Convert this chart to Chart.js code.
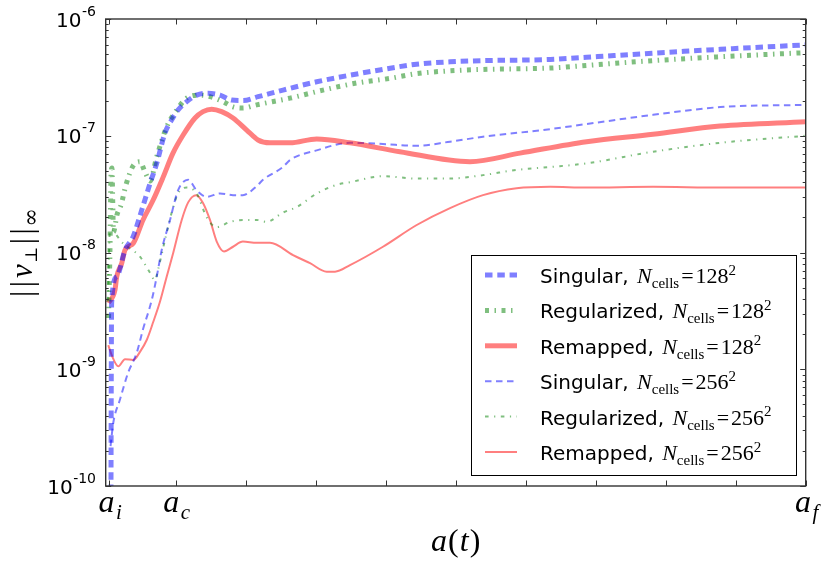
<!DOCTYPE html>
<html>
<head>
<meta charset="utf-8">
<script src="https://cdn.jsdelivr.net/npm/chart.js@4.4.0/dist/chart.umd.min.js"></script>
<style>
  html, body { margin: 0; padding: 0; background: #fff; }
  #wrap { width: 830px; height: 566px; position: relative; }
</style>
</head>
<body>
<div id="wrap"><canvas id="chart"></canvas></div>
<script>
// scale factor a(t), from a_i (left) to a_f (right = 1)
const singular128X = [0.0071, 0.0085, 0.0157, 0.0276, 0.039, 0.0514, 0.0633, 0.0729, 0.0847, 0.0943, 0.1033, 0.1157, 0.13, 0.1461, 0.1633, 0.18, 0.196, 0.2176, 0.2533, 0.3014, 0.349, 0.396, 0.444, 0.492, 0.539, 0.635, 0.687, 0.782, 0.878, 1.0];
const singular128Y = [1e-11, 3.7e-9, 6.2e-9, 1.05e-8, 1.36e-8, 2.3e-8, 3.9e-8, 5.8e-8, 1.06e-7, 1.37e-7, 1.66e-7, 1.96e-7, 2.23e-7, 2.31e-7, 2.23e-7, 2.02e-7, 2.0e-7, 2.16e-7, 2.46e-7, 2.9e-7, 3.3e-7, 3.7e-7, 4.1e-7, 4.3e-7, 4.4e-7, 4.5e-7, 4.7e-7, 5.1e-7, 5.5e-7, 6.0e-7];

const regular128X = [0.004, 0.0061, 0.0076, 0.009, 0.01, 0.0111, 0.0161, 0.0219, 0.029, 0.039, 0.049, 0.0561, 0.0633, 0.0729, 0.0871, 0.1014, 0.1157, 0.1347, 0.149, 0.1676, 0.1819, 0.196, 0.2157, 0.2633, 0.3104, 0.3586, 0.406, 0.444, 0.492, 0.539, 0.635, 0.687, 0.782, 0.878, 1.0];
const regular128Y = [2.75e-9, 1.05e-8, 4.6e-8, 5.3e-8, 2.8e-8, 1.5e-8, 2.1e-8, 2.55e-8, 3.8e-8, 5.5e-8, 6.0e-8, 4.9e-8, 4.1e-8, 6.6e-8, 1.19e-7, 1.66e-7, 2.1e-7, 2.23e-7, 2.16e-7, 1.96e-7, 1.77e-7, 1.73e-7, 1.84e-7, 2.1e-7, 2.46e-7, 2.83e-7, 3.1e-7, 3.4e-7, 3.6e-7, 3.7e-7, 3.8e-7, 4.0e-7, 4.4e-7, 4.75e-7, 5.15e-7];

const remap128X = [0.0037, 0.0133, 0.0157, 0.0229, 0.0276, 0.0394, 0.0533, 0.0676, 0.0819, 0.0961, 0.1104, 0.1276, 0.139, 0.1514, 0.1657, 0.1819, 0.2014, 0.2176, 0.2347, 0.2633, 0.3014, 0.349, 0.4204, 0.5204, 0.5919, 0.687, 0.7819, 0.8776, 1.0];
const remap128Y = [3.7e-9, 4.8e-9, 6.2e-9, 8.1e-9, 1.05e-8, 1.2e-8, 1.9e-8, 2.8e-8, 4.4e-8, 7.1e-8, 1.01e-7, 1.42e-7, 1.61e-7, 1.69e-7, 1.61e-7, 1.42e-7, 1.12e-7, 9.2e-8, 8.7e-8, 8.7e-8, 9.4e-8, 8.7e-8, 7.3e-8, 6.0e-8, 7.1e-8, 8.9e-8, 1.03e-7, 1.21e-7, 1.32e-7];

const singular256X = [0.0069, 0.0109, 0.0204, 0.0319, 0.0443, 0.0533, 0.0657, 0.0729, 0.08, 0.0919, 0.1033, 0.1176, 0.13, 0.1443, 0.1633, 0.1819, 0.196, 0.2157, 0.2247, 0.2533, 0.2633, 0.3014, 0.349, 0.3961, 0.4443, 0.4919, 0.539, 0.635, 0.687, 0.782, 0.878, 1.0];
const singular256Y = [2.2e-10, 3.5e-10, 5.5e-10, 9.3e-10, 1.38e-9, 2.2e-9, 3.9e-9, 6.2e-9, 1.05e-8, 1.9e-8, 3.4e-8, 4.2e-8, 3.4e-8, 3.0e-8, 3.2e-8, 3.1e-8, 3.1e-8, 3.7e-8, 4.2e-8, 5.4e-8, 6.2e-8, 7.5e-8, 8.7e-8, 8.5e-8, 8.2e-8, 8.9e-8, 9.8e-8, 1.14e-7, 1.26e-7, 1.51e-7, 1.76e-7, 1.84e-7];

const regular256X = [0.0033, 0.0061, 0.0247, 0.049, 0.0633, 0.0704, 0.0747, 0.0847, 0.0943, 0.1033, 0.1157, 0.13, 0.1443, 0.1586, 0.1776, 0.196, 0.2157, 0.23, 0.2533, 0.2729, 0.3014, 0.33, 0.349, 0.3961, 0.4443, 0.4919, 0.539, 0.587, 0.635, 0.687, 0.782, 0.878, 1.0];
const regular256Y = [3.9e-9, 1.56e-8, 1.2e-8, 9.2e-9, 6.7e-9, 5.8e-9, 7.1e-9, 1.28e-8, 2.2e-8, 3.2e-8, 3.6e-8, 3.2e-8, 2.0e-8, 1.65e-8, 1.83e-8, 1.9e-8, 1.9e-8, 1.83e-8, 2.2e-8, 2.45e-8, 3.2e-8, 3.8e-8, 4.0e-8, 4.5e-8, 4.3e-8, 4.3e-8, 4.6e-8, 5.1e-8, 5.4e-8, 5.8e-8, 7.3e-8, 8.7e-8, 1.0e-7];

const remap256X = [0.0037, 0.0086, 0.018, 0.0276, 0.0394, 0.049, 0.0586, 0.068, 0.0776, 0.0871, 0.0966, 0.1086, 0.118, 0.129, 0.139, 0.149, 0.1586, 0.169, 0.1819, 0.196, 0.2157, 0.2347, 0.2676, 0.2919, 0.3157, 0.3276, 0.349, 0.3961, 0.4443, 0.4919, 0.539, 0.587, 0.635, 0.687, 0.782, 0.878, 1.0];
const remap256Y = [1.61e-9, 1.32e-9, 1.06e-9, 1.22e-9, 1.2e-9, 1.41e-9, 1.78e-9, 2.55e-9, 3.8e-9, 6.2e-9, 1.0e-8, 1.9e-8, 2.7e-8, 3.1e-8, 2.66e-8, 1.9e-8, 1.24e-8, 1.02e-8, 1.12e-8, 1.24e-8, 1.21e-8, 1.21e-8, 9.5e-9, 8.1e-9, 6.85e-9, 6.85e-9, 7.8e-9, 1.12e-8, 1.72e-8, 2.4e-8, 3.1e-8, 3.55e-8, 3.66e-8, 3.6e-8, 3.66e-8, 3.6e-8, 3.6e-8];

const methodNames = ['Singular', 'Regularized', 'Remapped', 'Singular', 'Regularized', 'Remapped'];
const cellCounts = ['128', '128', '128', '256', '256', '256'];

const xTickValues = [0.005, 0.1, 0.2, 0.3, 0.4, 0.5, 0.6, 0.7, 0.8, 0.9, 1.0];
const xTickSubs = ['i', 'c', '', '', '', '', '', '', '', '', 'f'];
const yTickValues = [1e-10, 1e-9, 1e-8, 1e-7, 1e-6];
const yTickExps = ['-10', '-9', '-8', '-7', '-6'];

const SERIF = '"Liberation Serif", "Times New Roman", serif';
const SANS = '"DejaVu Sans", sans-serif';

const seriesX = [singular128X, regular128X, remap128X, singular256X, regular256X, remap256X];
const seriesY = [singular128Y, regular128Y, remap128Y, singular256Y, regular256Y, remap256Y];
const looks = [
  { color: 'rgba(0,0,255,0.5)', width: 5, dash: [7.5, 4.8] },
  { color: 'rgba(0,128,0,0.5)', width: 5, dash: [4, 5.5, 1.5, 5.5] },
  { color: 'rgba(255,0,0,0.5)', width: 5, dash: [] },
  { color: 'rgba(0,0,255,0.5)', width: 2, dash: [6.5, 4.5] },
  { color: 'rgba(0,128,0,0.5)', width: 2, dash: [3.6, 5.5, 1.2, 5.5] },
  { color: 'rgba(255,0,0,0.5)', width: 2, dash: [] }
];

const datasets = seriesX.map((xs, i) => ({
  label: methodNames[i] + ', N_cells=' + cellCounts[i] + '^2',
  data: xs.map((v, j) => ({ x: v, y: seriesY[i][j] })),
  borderColor: looks[i].color,
  borderWidth: looks[i].width,
  borderDash: looks[i].dash,
  fill: false,
  pointRadius: 0,
  cubicInterpolationMode: 'monotone',
  clip: 0
}));

// draws pieces of text one after another: [text, font, dy, extra gap]
function drawRuns(ctx, runs, x, y, align) {
  let total = 0;
  const widths = runs.map(r => {
    ctx.font = r[1];
    const w = ctx.measureText(r[0]).width + (r[3] || 0);
    total += w;
    return w;
  });
  let cx = align === 'center' ? x - total / 2 : (align === 'right' ? x - total : x);
  runs.forEach((r, i) => {
    ctx.font = r[1];
    ctx.fillText(r[0], cx, y + (r[2] || 0));
    cx += widths[i];
  });
  return cx;
}

const decorations = {
  id: 'decorations',
  afterDraw(chart) {
    const { ctx, chartArea: a, scales: { x, y } } = chart;
    ctx.save();
    ctx.textAlign = 'left';
    ctx.textBaseline = 'alphabetic';

    // frame
    ctx.strokeStyle = '#333';
    ctx.lineWidth = 1.4;
    ctx.strokeRect(a.left, a.top, a.right - a.left, a.bottom - a.top);

    // ticks, pointing inward on all sides
    ctx.lineWidth = 1;
    ctx.beginPath();
    xTickValues.forEach(v => {
      const px = Math.round(x.getPixelForValue(v)) + 0.5;
      ctx.moveTo(px, a.bottom); ctx.lineTo(px, a.bottom - 5.5);
      ctx.moveTo(px, a.top); ctx.lineTo(px, a.top + 5.5);
    });
    for (let e = -10; e <= -6; e++) {
      for (let k = 1; k <= 9; k++) {
        const v = k * Math.pow(10, e);
        if (v > 1.0001e-6) break;
        const py = Math.round(y.getPixelForValue(v)) + 0.5;
        const len = k === 1 ? 5.5 : 3;
        ctx.moveTo(a.left, py); ctx.lineTo(a.left + len, py);
        ctx.moveTo(a.right, py); ctx.lineTo(a.right - len, py);
      }
    }
    ctx.stroke();

    ctx.fillStyle = '#000';
    // y tick labels 10^e
    yTickValues.forEach((v, i) => {
      const py = y.getPixelForValue(v);
      ctx.font = '14px ' + SANS;
      const ws = ctx.measureText(yTickExps[i]).width;
      const right = 96;
      ctx.fillText(yTickExps[i], right - ws, py - 3.5);
      ctx.font = '20px ' + SANS;
      const wb = ctx.measureText('10').width;
      ctx.fillText('10', right - ws - wb - 0.5, py + 7.5);
    });

    // x tick labels a_i, a_c, a_f
    xTickValues.forEach((v, i) => {
      if (!xTickSubs[i]) return;
      const px = x.getPixelForValue(v);
      drawRuns(ctx, [
        ['a', 'italic 32px ' + SERIF, 0, 1.5],
        [xTickSubs[i], 'italic 21px ' + SERIF, 7]
      ], px + 1, 511.5, 'center');
    });

    // x axis title
    drawRuns(ctx, [
      ['a', 'italic 32px ' + SERIF, 0, 1],
      ['(', '32px ' + SERIF, 0, 1],
      ['t', 'italic 32px ' + SERIF, 0, 1],
      [')', '32px ' + SERIF, 0]
    ], (a.left + a.right) / 2, 551, 'center');

    // y axis title ||v_perp||_inf
    ctx.save();
    ctx.translate(32, (a.top + a.bottom) / 2);
    ctx.rotate(-Math.PI / 2);
    drawRuns(ctx, [
      ['|', '31px ' + SERIF, 0, 3.5],
      ['|', '31px ' + SERIF, 0, 3],
      ['v', 'italic 31px ' + SERIF, 0, 1.5],
      ['\u22a5', '17px "DejaVu Serif", serif', 5, 2.5],
      ['|', '31px ' + SERIF, 0, 3.5],
      ['|', '31px ' + SERIF, 0, 2],
      ['\u221e', '22px "DejaVu Serif", serif', 6]
    ], 0, 0, 'center');
    ctx.restore();

    // legend
    const lx = 471.5, ly = 255.5, lw = 325, lh = 220;
    ctx.fillStyle = '#fff';
    ctx.fillRect(lx, ly, lw, lh);
    ctx.strokeStyle = '#000';
    ctx.lineWidth = 1;
    ctx.strokeRect(lx, ly, lw, lh);
    methodNames.forEach((name, i) => {
      const rowY = 275 + i * 35.4;
      ctx.save();
      ctx.strokeStyle = looks[i].color;
      ctx.lineWidth = looks[i].width;
      ctx.setLineDash(looks[i].dash);
      ctx.beginPath();
      ctx.moveTo(485, rowY);
      ctx.lineTo(517, rowY);
      ctx.stroke();
      ctx.restore();
      ctx.fillStyle = '#000';
      drawRuns(ctx, [
        [name + ', ', '20px ' + SANS, 0, 2],
        ['N', 'italic 22px ' + SERIF, 0],
        ['cells', '15px ' + SERIF, 5, 2],
        ['=', '22px ' + SERIF, 0, 2],
        [cellCounts[i], '22px ' + SERIF, 0],
        ['2', '15px ' + SERIF, -8.5]
      ], 540, rowY + 8, 'left');
    });
    ctx.restore();
  }
};

new Chart(document.getElementById('chart'), {
  type: 'line',
  data: { datasets: datasets },
  options: {
    responsive: true,
    maintainAspectRatio: false,
    animation: false,
    layout: { padding: { left: 105.7, right: 24.3, top: 19, bottom: 80 } },
    plugins: { legend: { display: false }, tooltip: { enabled: false } },
    scales: {
      x: { type: 'linear', min: 0, max: 1, display: false },
      y: { type: 'logarithmic', min: 1e-10, max: 1e-6, display: false }
    }
  },
  plugins: [decorations]
});
</script>
</body>
</html>
